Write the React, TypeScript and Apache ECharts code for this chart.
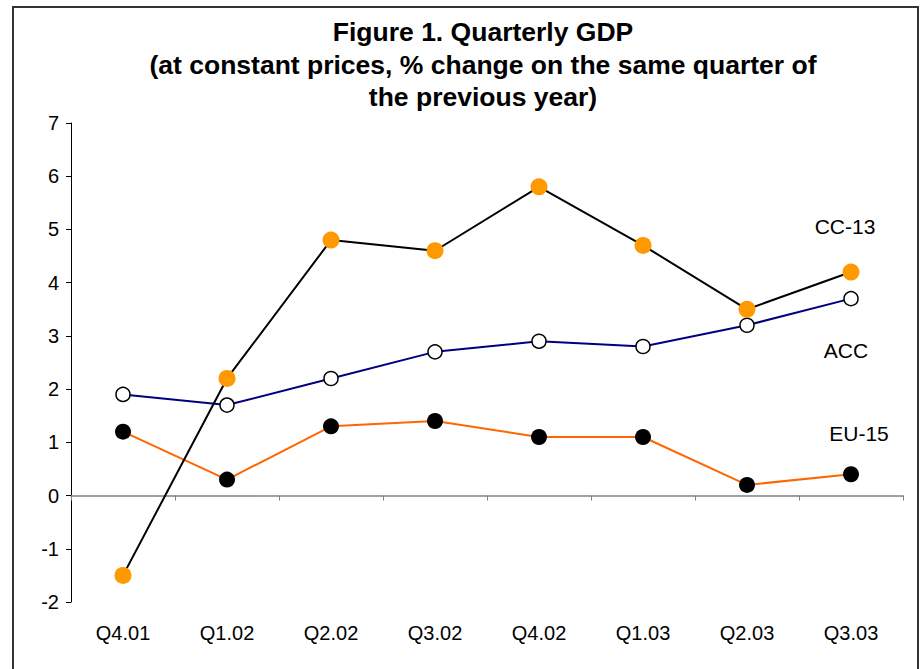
import React, { useEffect, useRef } from "react";
import * as echarts from "echarts";

const categories = ["Q4.01", "Q1.02", "Q2.02", "Q3.02", "Q4.02", "Q1.03", "Q2.03", "Q3.03"];
const cc13 = [-1.5, 2.2, 4.8, 4.6, 5.8, 4.7, 3.5, 4.2];
const acc = [1.9, 1.7, 2.2, 2.7, 2.9, 2.8, 3.2, 3.7];
const eu15 = [1.2, 0.3, 1.3, 1.4, 1.1, 1.1, 0.2, 0.4];
const titleLines = [
  "Figure 1. Quarterly GDP",
  "(at constant prices, % change on the same quarter of",
  "the previous year)",
];

const FONT = "'Liberation Sans', Arial, sans-serif";

export default function App() {
  const ref = useRef<HTMLDivElement>(null);
  useEffect(() => {
    if (!ref.current) return;
    const chart = echarts.init(ref.current, null, { renderer: "svg" });
    chart.setOption({
      animation: false,
      backgroundColor: "#ffffff",
      title: {
        text: titleLines.join("\n"),
        left: 478,
        textAlign: "center",
        top: 11,
        textStyle: {
          fontFamily: FONT,
          fontWeight: "bold",
          fontSize: 26.5,
          lineHeight: 32.5,
          color: "#000",
        },
      },
      grid: { left: 71, right: 19, top: 123, bottom: 67, containLabel: false },
      xAxis: [
        {
          type: "category",
          data: categories,
          boundaryGap: true,
          axisLine: { onZero: true, lineStyle: { color: "#808080", width: 1.5 } },
          axisTick: { show: true, length: 5, inside: false, lineStyle: { color: "#808080" } },
          axisLabel: { show: false },
          splitLine: { show: false },
        },
        {
          type: "category",
          data: categories,
          boundaryGap: true,
          position: "bottom",
          axisLine: { show: false, onZero: false },
          axisTick: { show: false },
          axisLabel: { show: true, margin: 21, fontFamily: FONT, fontSize: 20, color: "#000" },
          splitLine: { show: false },
        },
      ],
      yAxis: {
        type: "value",
        min: -2,
        max: 7,
        interval: 1,
        axisLine: { show: true, lineStyle: { color: "#000", width: 1 } },
        axisTick: { show: true, length: 5, lineStyle: { color: "#000" } },
        axisLabel: { margin: 12, fontFamily: FONT, fontSize: 20, color: "#000" },
        splitLine: { show: false },
      },
      series: [
        {
          name: "EU-15",
          type: "line",
          data: eu15,
          symbol: "circle",
          symbolSize: 16,
          lineStyle: { color: "#FF6600", width: 2 },
          itemStyle: { color: "#000", borderColor: "#000", borderWidth: 0 },
          z: 3,
        },
        {
          name: "ACC",
          type: "line",
          data: acc,
          symbol: "circle",
          symbolSize: 14,
          lineStyle: { color: "#000080", width: 2 },
          itemStyle: { color: "#fff", borderColor: "#000", borderWidth: 1.5 },
          z: 4,
        },
        {
          name: "CC-13",
          type: "line",
          data: cc13,
          symbol: "circle",
          symbolSize: 17,
          lineStyle: { color: "#000", width: 2 },
          itemStyle: { color: "#FF9900", borderWidth: 0 },
          z: 5,
        },
      ],
      graphic: [
        {
          type: "rect",
          shape: { x: 13, y: 7, width: 905, height: 700 },
          style: { fill: "none", stroke: "#333", lineWidth: 2 },
          silent: true,
        },
        {
          type: "text",
          x: 845,
          y: 226,
          style: { text: "CC-13", fontFamily: FONT, fontSize: 21, fill: "#000", textAlign: "center", textVerticalAlign: "middle" },
        },
        {
          type: "text",
          x: 846,
          y: 350,
          style: { text: "ACC", fontFamily: FONT, fontSize: 21, fill: "#000", textAlign: "center", textVerticalAlign: "middle" },
        },
        {
          type: "text",
          x: 859,
          y: 433,
          style: { text: "EU-15", fontFamily: FONT, fontSize: 21, fill: "#000", textAlign: "center", textVerticalAlign: "middle" },
        },
      ],
    });
    return () => chart.dispose();
  }, []);
  return (
    <div
      ref={ref}
      style={{ position: "absolute", left: 0, top: 0, width: 922, height: 669 }}
    />
  );
}
